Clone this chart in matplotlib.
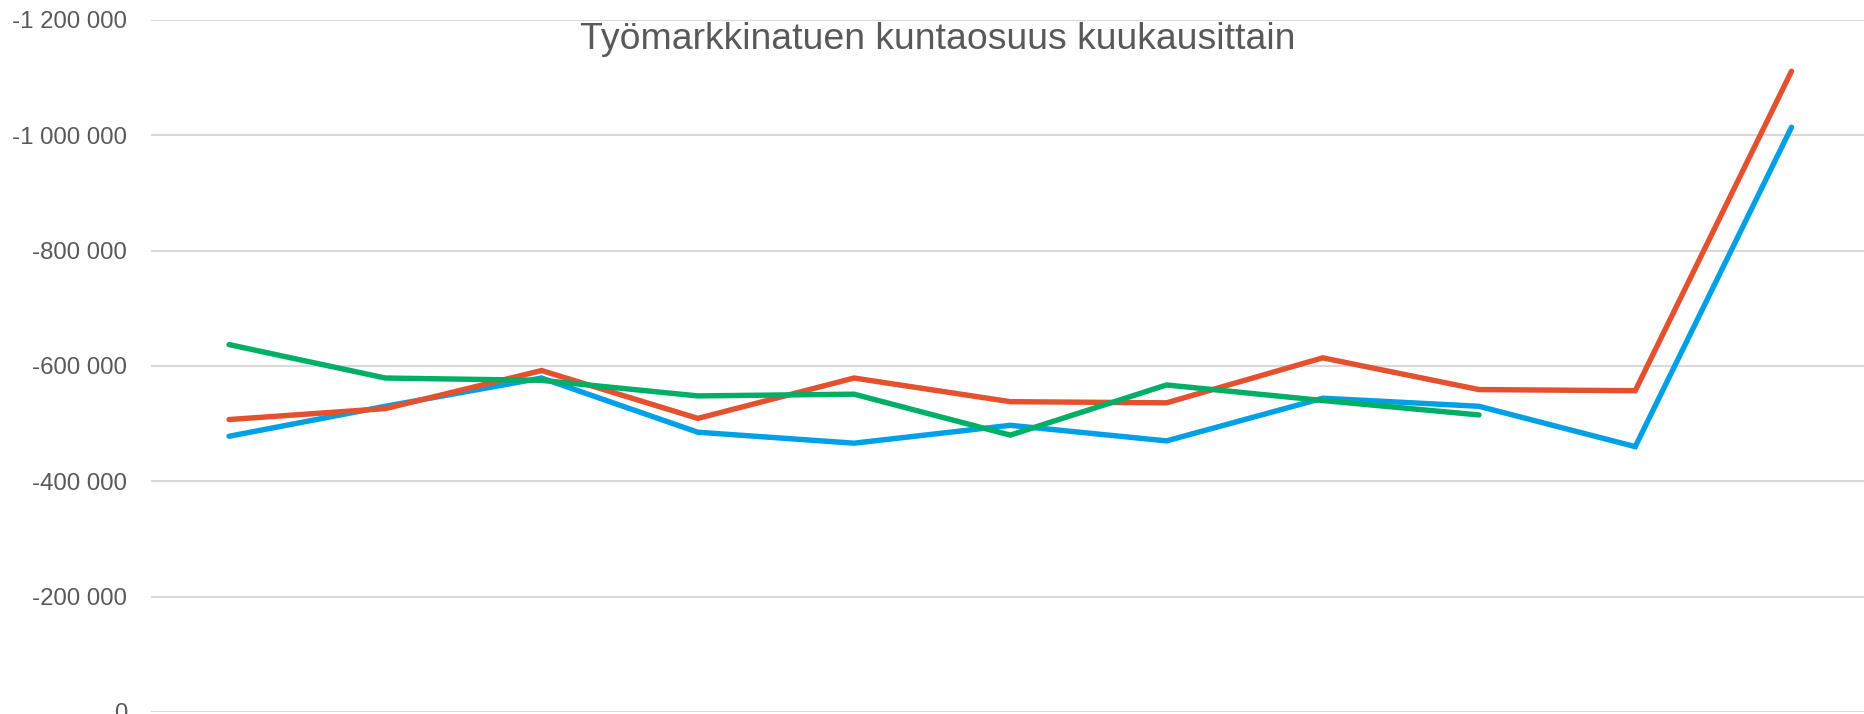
import matplotlib
matplotlib.use("Agg")
import matplotlib.pyplot as plt
from matplotlib.ticker import FuncFormatter, MultipleLocator

plt.rcParams["font.family"] = ["Liberation Sans", "DejaVu Sans"]

# ──────────────────────────────────────────────────────────────────────────
# Data (euros per month)
# ──────────────────────────────────────────────────────────────────────────

months = list(range(11))
blue_values = [-478000, -530000, -579000, -485000, -466000, -497000,
               -470000, -544000, -530000, -460000, -1014000]
red_values = [-507000, -526000, -592000, -509000, -579000, -538000,
              -536000, -614000, -559000, -557000, -1111000]
green_values = [-637000, -579000, -575000, -548000, -551000, -480000,
                -567000, -540000, -515000]

title = "Työmarkkinatuen kuntaosuus kuukausittain"

BLUE = "#00A0E6"
RED = "#E4512F"
GREEN = "#00AF66"
TEXT = "#595959"
GRID = "#D9D9D9"


def fmt_thousands(v, _pos):
    return f"{int(round(v)):,}".replace(",", " ")


fig = plt.figure(figsize=(18.64, 7.14), dpi=100)
ax = fig.add_axes([0.081, 0.003, 0.922, 0.969])

for values, color in [(blue_values, BLUE), (red_values, RED), (green_values, GREEN)]:
    ax.plot(months[:len(values)], values, color=color, linewidth=3.9,
            solid_capstyle="round", solid_joinstyle="miter")

ax.set_ylim(0, -1200000)
ax.set_xlim(-0.5, 10.5)
ax.yaxis.set_major_locator(MultipleLocator(200000))
ax.yaxis.set_major_formatter(FuncFormatter(fmt_thousands))
ax.grid(axis="y", color=GRID, linewidth=1.5)
ax.set_axisbelow(True)
ax.set_xticks([])
ax.tick_params(axis="y", length=0, pad=17, labelsize=17.3, labelcolor=TEXT)
for s in ax.spines.values():
    s.set_visible(False)

fig.text(0.503, 0.945, title, ha="center", va="center", fontsize=26.9, color=TEXT)

fig.savefig("out.png", dpi=100)
